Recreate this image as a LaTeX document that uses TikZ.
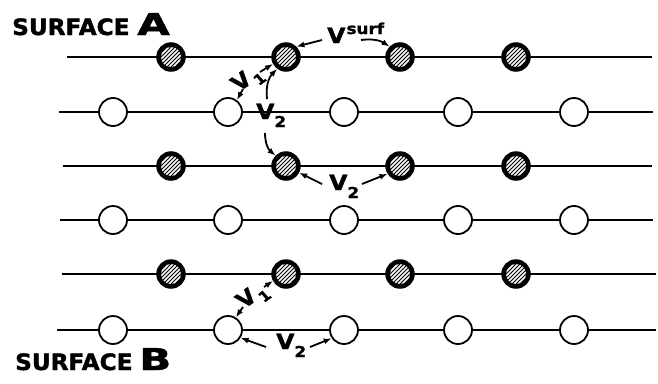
\documentclass[tikz,border=0pt]{standalone}
\usepackage{fontspec}
\setmainfont{DejaVu Sans}[BoldFeatures={FakeBold=1.6}]
\usetikzlibrary{arrows.meta}
\newcommand\vlab[1]{{\fontsize{21}{21}\selectfont V}\raisebox{-8pt}{\fontsize{15}{15}\selectfont #1}}
\newcommand\vlabr[1]{{\fontsize{21}{21}\selectfont V}\hspace{1.5pt}\raisebox{-6pt}{\fontsize{14}{14}\selectfont #1}}
\tikzset{
  openatom/.style={circle, draw=black, line width=1.8pt, fill=white, minimum size=28pt, inner sep=0pt},
  hatom/.style={circle, draw=black, line width=1.5pt, fill=black, minimum size=28pt, inner sep=0pt,
    path picture={
      \clip (path picture bounding box.center) circle (10pt);
      \foreach \d in {-16,-12,...,16}{
        \draw[white, line width=1.6pt] ([xshift=\d pt]path picture bounding box.center) ++(-14pt,-14pt) -- ++(28pt,28pt);
      }
    }},
  rowline/.style={line width=1.5pt},
  arr/.style={line width=1.8pt, -{Latex[length=8pt,width=6pt]}},
  vtxt/.style={font=\bfseries, inner sep=0pt, xscale=1.12},
  surftxt/.style={font=\bfseries\fontsize{22.5}{22.5}\selectfont, inner sep=0pt, anchor=base west, xscale=1.03},
  bigtxt/.style={font=\bfseries\fontsize{30}{30}\selectfont, inner sep=0pt, anchor=base west, xscale=1.4},
}
\begin{document}
\begin{tikzpicture}[x=1pt,y=-1pt]
\useasboundingbox (0,0) rectangle (658,383);
% row lines
\coordinate (L1) at (67,57);  \coordinate (R1) at (652,57);
\coordinate (L2) at (59,112); \coordinate (R2) at (653,112);
\coordinate (L3) at (63,166); \coordinate (R3) at (652,166);
\coordinate (L4) at (60,220); \coordinate (R4) at (653,220);
\coordinate (L5) at (62,274); \coordinate (R5) at (656,274);
\coordinate (L6) at (57,330); \coordinate (R6) at (656,330);
\foreach \r in {1,...,6}{\draw[rowline] (L\r) -- (R\r);}
% hatched atoms
\foreach \r/\y in {1/57,3/166,5/274}{
  \node[hatom] (h\r a) at (171,\y) {};
  \node[hatom] (h\r b) at (286,\y) {};
  \node[hatom] (h\r c) at (400,\y) {};
  \node[hatom] (h\r d) at (516,\y) {};
}
% open atoms
\foreach \r/\y in {2/112,4/220,6/330}{
  \node[openatom] (o\r a) at (113,\y) {};
  \node[openatom] (o\r b) at (228,\y) {};
  \node[openatom] (o\r c) at (344,\y) {};
  \node[openatom] (o\r d) at (458,\y) {};
  \node[openatom] (o\r e) at (574,\y) {};
}
% titles
\node[surftxt] (sA) at (12,35) {SURFACE};
\node[bigtxt] (lA) at (137,35) {A};
\node[surftxt] (sB) at (15,370) {SURFACE};
\node[bigtxt] (lB) at (139,370) {B};
% V surf
\node[vtxt, anchor=base west] (vs) at (327,43) {{\fontsize{21}{21}\selectfont V}\hspace{1pt}\raisebox{9pt}{\fontsize{15}{15}\selectfont surf}};
\coordinate (vsL) at (322,40);
\coordinate (vsR) at (361,40);
\draw[arr] (vsL) -- (h1b.45);
\draw[arr] (vsR) to[bend left=20] (h1c.135);
% top V1
\node[vtxt, rotate=38] (v1t) at (248,80) {\vlabr{1}};
\coordinate (v1tA) at (260,72);
\coordinate (v1tB) at (243,89);
\draw[arr] (v1tA) -- (h1b.208);
\draw[arr] (v1tB) -- (o2b.53);
% top V2
\node[vtxt, anchor=base west] (v2t) at (256,119) {\vlab{2}};
\coordinate (v2tA) at (267,99);
\coordinate (v2tB) at (265,133);
\draw[arr] (v2tA) to[bend left=25] (h1b.233);
\draw[arr] (v2tB) to[bend right=25] (h3b.135);
% row3 V2
\node[vtxt, anchor=base west] (v2m) at (329,190) {\vlab{2}};
\coordinate (v2mL) at (322,184);
\coordinate (v2mR) at (362,184);
\draw[arr] (v2mL) -- (h3b.-27);
\draw[arr] (v2mR) -- (h3c.212);
% bottom V1
\node[vtxt, rotate=38] (v1b) at (253,297) {\vlabr{1}};
\coordinate (v1bA) at (264,287);
\coordinate (v1bB) at (243,307);
\draw[arr] (v1bA) -- (h5b.208);
\draw[arr] (v1bB) -- (o6b.58);
% bottom V2
\node[vtxt, anchor=base west] (v2b) at (276,349) {\vlab{2}};
\coordinate (v2bL) at (266,347);
\coordinate (v2bR) at (310,347);
\draw[arr] (v2bL) -- (o6b.-32);
\draw[arr] (v2bR) -- (o6c.214);
\end{tikzpicture}
\end{document}
